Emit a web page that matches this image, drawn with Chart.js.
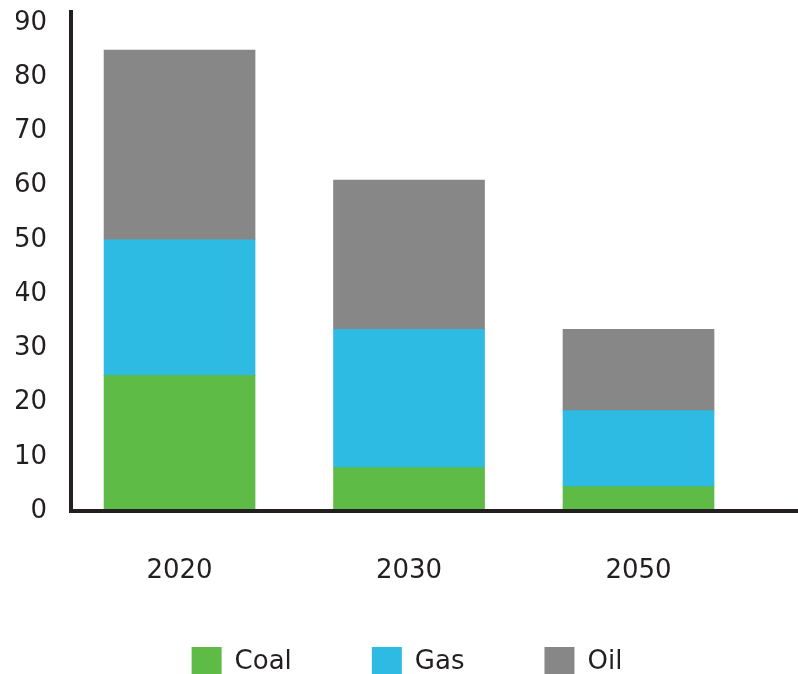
<!DOCTYPE html>
<html>
<head>
<meta charset="utf-8">
<script src="https://cdn.jsdelivr.net/npm/chart.js@4/dist/chart.umd.min.js"></script>
<style>
    html, body { margin: 0; padding: 0; overflow: hidden; background: #fff; }
    #wrap { width: 798px; height: 690px; }
</style>
</head>
<body>
<div id="wrap"><canvas id="energyChart"></canvas></div>
<script>
// chart values
const years = ["2020", "2030", "2050"];
const coal = [25, 8, 4.5];
const gas = [25, 25.5, 14];
const oil = [35, 27.5, 15];
const yTicks = [0, 10, 20, 30, 40, 50, 60, 70, 80, 90];

const ink = "#231f20";
const font = { family: "DejaVu Sans", size: 26 };

// bars sit on index positions 0, 1, 2 of a linear x scale
const toPoints = (values) => values.map((v, i) => ({ x: i, y: v }));

const ctx = document.getElementById("energyChart").getContext("2d");

const energyChart = new Chart(ctx, {
    type: "bar",
    data: {
        datasets: [
            { label: "Coal", data: toPoints(coal), backgroundColor: "#5dbb46" },
            { label: "Gas", data: toPoints(gas), backgroundColor: "#2dbbe3" },
            { label: "Oil", data: toPoints(oil), backgroundColor: "#878787" },
        ],
    },
    options: {
        responsive: true,
        maintainAspectRatio: false,
        animation: false,
        barThickness: 151,
        layout: { padding: { top: 12, left: 16, right: 0, bottom: 3 } },
        plugins: {
            tooltip: { enabled: false },
            legend: {
                position: "bottom",
                labels: {
                    color: ink,
                    font: font,
                    boxWidth: 30,
                    boxHeight: 30,
                    padding: 80,
                },
            },
        },
        scales: {
            x: {
                type: "linear",
                stacked: true,
                offset: false,
                bounds: "data",
                min: -0.473,
                max: 2.695,
                grid: { display: false, drawTicks: false },
                border: { display: true, color: ink, width: 4, z: 1 },
                afterBuildTicks: (scale) => {
                    scale.ticks = years.map((y, i) => ({ value: i }));
                },
                afterFit: (scale) => {
                    scale.height = 56;
                },
                ticks: {
                    color: ink,
                    font: font,
                    // mirrored so the labels are not clipped to the short axis box
                    mirror: true,
                    padding: -76,
                    callback: (value) => years[value],
                },
            },
            y: {
                stacked: true,
                min: 0,
                max: 92,
                grid: { display: false, drawTicks: false },
                border: { display: true, color: ink, width: 4 },
                afterBuildTicks: (scale) => {
                    scale.ticks = yTicks.map((v) => ({ value: v }));
                },
                afterFit: (scale) => {
                    scale.width = 55;
                    scale.paddingTop = 0;
                    scale.paddingBottom = 0;
                },
                ticks: {
                    color: ink,
                    font: { family: "DejaVu Sans", size: 26, lineHeight: 1 },
                    padding: 24,
                },
            },
        },
    },
});
</script>
</body>
</html>
